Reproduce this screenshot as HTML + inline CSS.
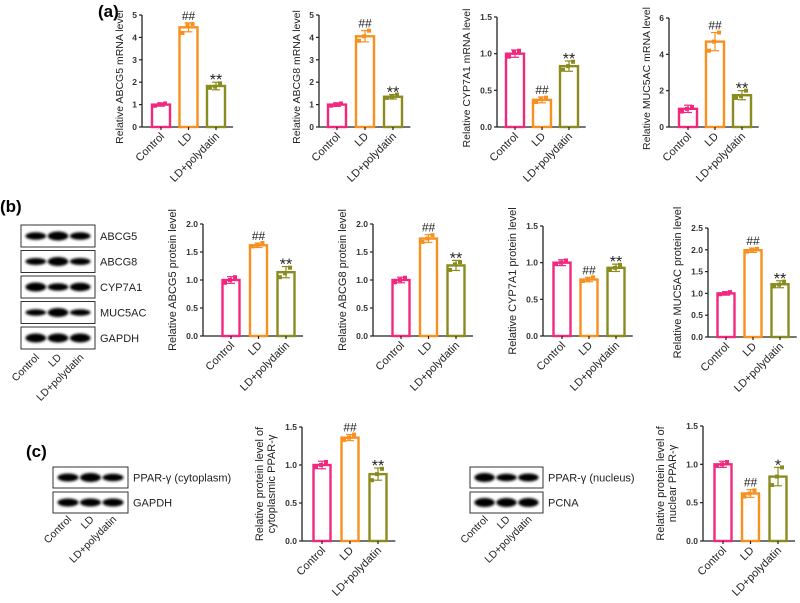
<!DOCTYPE html>
<html><head><meta charset="utf-8"><style>
html,body{margin:0;padding:0;background:#fff;width:800px;height:603px;overflow:hidden}
svg{display:block;font-family:"Liberation Sans",Arial,sans-serif}
</style></head><body>
<svg id="fig" width="800" height="603" viewBox="0 0 800 603" xmlns="http://www.w3.org/2000/svg">
<defs><filter id="blur" x="-20%" y="-50%" width="140%" height="200%"><feGaussianBlur stdDeviation="1.3"/></filter></defs>
<text x="98" y="17" font-size="17" font-weight="bold">(a)</text>
<text x="0" y="212" font-size="17" font-weight="bold">(b)</text>
<text x="26" y="457" font-size="17" font-weight="bold">(c)</text>
</svg>
<script>
const categories=["Control","LD","LD+polydatin"];
const colors=["#f2287f","#f7901e","#8b8c1f"];
// panel (a)
const a1Values=[1.0,4.45,1.83], a1Err=[0.07,0.2,0.17], a1Pts=[[0.95,1.02,1.05],[4.2,4.55,4.6],[1.75,1.8,1.95]], a1Marks=["","##","**"];
const a2Values=[1.0,4.05,1.35], a2Err=[0.08,0.25,0.1], a2Pts=[[0.95,1.0,1.05],[3.85,4.05,4.3],[1.3,1.35,1.45]], a2Marks=["","##","**"];
const a3Values=[1.0,0.37,0.83], a3Err=[0.05,0.04,0.07], a3Pts=[[0.96,1.02,1.04],[0.34,0.38,0.4],[0.78,0.83,0.89]], a3Marks=["","##","**"];
const a4Values=[1.0,4.7,1.75], a4Err=[0.2,0.5,0.25], a4Pts=[[0.85,1.0,1.1],[4.2,4.7,5.2],[1.6,1.7,2.0]], a4Marks=["","##","**"];
// panel (b)
const b1Values=[1.0,1.62,1.14], b1Err=[0.06,0.04,0.1], b1Pts=[[0.95,1.0,1.05],[1.6,1.62,1.66],[1.05,1.12,1.22]], b1Marks=["","##","**"];
const b2Values=[1.0,1.74,1.26], b2Err=[0.05,0.07,0.09], b2Pts=[[0.96,1.0,1.04],[1.68,1.74,1.8],[1.18,1.28,1.32]], b2Marks=["","##","**"];
const b3Values=[1.0,0.77,0.93], b3Err=[0.04,0.03,0.05], b3Pts=[[0.98,1.0,1.03],[0.75,0.77,0.8],[0.9,0.93,0.97]], b3Marks=["","##","**"];
const b4Values=[1.0,1.99,1.21], b4Err=[0.04,0.05,0.08], b4Pts=[[0.98,1.0,1.03],[1.96,2.0,2.02],[1.16,1.2,1.27]], b4Marks=["","##","**"];
// panel (c)
const c1Values=[1.0,1.36,0.88], c1Err=[0.05,0.04,0.08], c1Pts=[[0.97,1.0,1.04],[1.33,1.36,1.4],[0.8,0.88,0.95]], c1Marks=["","##","**"];
const c2Values=[1.0,0.62,0.84], c2Err=[0.04,0.05,0.12], c2Pts=[[0.98,1.0,1.03],[0.58,0.62,0.66],[0.73,0.84,0.96]], c2Marks=["","##","*"];
const ticks5=[0,1,2,3,4,5], ticks15=[0,0.5,1.0,1.5], ticks6=[0,2,4,6], ticks20=[0,0.5,1.0,1.5,2.0], ticks25=[0,0.5,1.0,1.5,2.0,2.5];

const NS="http://www.w3.org/2000/svg";
const svg=document.getElementById('fig');
function el(tag,attrs,parent){const e=document.createElementNS(NS,tag);for(const k in attrs)e.setAttribute(k,attrs[k]);(parent||svg).appendChild(e);return e;}

function chart(id,cfg,values,errs,pts,marks,ticks,ylabel){
  const g=el('g',{});
  
  
  const max=ticks[ticks.length-1];
  const yS=v=>cfg.y0-(v/max)*(cfg.y0-cfg.yTop);
  const xS=i=>cfg.x0+cfg.first+i*cfg.step;
  const endX=xS(2)+cfg.step*0.62;
  const ya=el('line',{x1:cfg.x0,y1:cfg.yTop,x2:cfg.x0,y2:cfg.y0,stroke:'#222','stroke-width':1.3},g);
  
  
  const xa=el('line',{x1:cfg.x0,y1:cfg.y0,x2:endX,y2:cfg.y0,stroke:'#222','stroke-width':1.3},g);
  
  
  ticks.forEach(t=>{
    const y=yS(t);
    el('line',{x1:cfg.x0-3,y1:y,x2:cfg.x0,y2:y,stroke:'#222','stroke-width':1.2},g);
    const tx=el('text',{x:cfg.x0-5,y:y+3,'font-size':8.5,'font-weight':'bold','text-anchor':'end',fill:'#333'},g);
    tx.textContent=cfg.fmt?t.toFixed(1):String(t);
    
    
  });
  const lx=cfg.x0-(cfg.fmt?27:19), ly=(cfg.y0+cfg.yTop)/2+(cfg.ldy||0);
  ylabel.forEach((line,k)=>{
    const t=el('text',{x:0,y:0,'font-size':cfg.lfs||11,'text-anchor':'middle',fill:'#222',transform:`translate(${lx-(ylabel.length-1-k)*12},${ly}) rotate(-90)`},g);
    t.textContent=line;
    
    
  });
  const bw=cfg.bw||17;
  values.forEach((v,i)=>{
    const cx=xS(i), y=yS(v), c=colors[i];
    const r=el('rect',{x:cx-bw/2,y:y,width:bw,height:cfg.y0-y,fill:'#fff',stroke:c,'stroke-width':2.4},g);
    
    
    const ye=yS(v+errs[i]), yl=yS(v-errs[i]);
    el('line',{x1:cx,y1:ye,x2:cx,y2:yl,stroke:c,'stroke-width':1.2},g);
    el('line',{x1:cx-4,y1:ye,x2:cx+4,y2:ye,stroke:c,'stroke-width':1.2},g);
    el('line',{x1:cx-4,y1:yl,x2:cx+4,y2:yl,stroke:c,'stroke-width':1.2},g);
    pts[i].forEach((p,k)=>{
      const pt=el('rect',{x:cx-6+k*5-2,y:yS(p)-2,width:4,height:4,fill:c},g);
      
      
    });
    el('line',{x1:cx,y1:cfg.y0,x2:cx,y2:cfg.y0+3,stroke:'#222','stroke-width':1.2},g);
    const lab=el('text',{x:0,y:0,'font-size':11,'text-anchor':'end',fill:'#222',transform:`translate(${cx+4},${cfg.y0+10}) rotate(-45)`},g);
    lab.textContent=categories[i];
    
    
    if(marks[i]){
      const star=marks[i][0]=='*';
      const m=el('text',{x:cx,y:star?ye+3:ye-3,'font-size':star?16:12,'text-anchor':'middle',fill:'#222'},g);
      m.textContent=marks[i];
      
      
    }
  });
}

chart('chart-abcg5-mrna',{x0:142,y0:127,yTop:15,first:19,step:27.5,bw:18,lfs:10.5,ldy:6},a1Values,a1Err,a1Pts,a1Marks,ticks5,["Relative ABCG5 mRNA level"]);
chart('chart-abcg8-mrna',{x0:319,y0:127,yTop:15,first:18,step:28,bw:18,lfs:10.5,ldy:6},a2Values,a2Err,a2Pts,a2Marks,ticks5,["Relative ABCG8 mRNA level"]);
chart('chart-cyp7a1-mrna',{x0:497,y0:127,yTop:17,first:18,step:27,bw:18,fmt:1,lfs:10.5,ldy:6},a3Values,a3Err,a3Pts,a3Marks,ticks15,["Relative CYP7A1 mRNA level"]);
chart('chart-muc5ac-mrna',{x0:669,y0:127,yTop:18,first:19,step:27,bw:18,lfs:10.5,ldy:6},a4Values,a4Err,a4Pts,a4Marks,ticks6,["Relative MUC5AC mRNA level"]);
chart('chart-abcg5-protein',{x0:203,y0:336,yTop:224,first:28,step:27.5,fmt:1},b1Values,b1Err,b1Pts,b1Marks,ticks20,["Relative ABCG5 protein level"]);
chart('chart-abcg8-protein',{x0:373,y0:336,yTop:224,first:28,step:27.5,fmt:1},b2Values,b2Err,b2Pts,b2Marks,ticks20,["Relative ABCG8 protein level"]);
chart('chart-cyp7a1-protein',{x0:543,y0:336,yTop:226,first:19,step:27,fmt:1},b3Values,b3Err,b3Pts,b3Marks,ticks15,["Relative CYP7A1 protein level"]);
chart('chart-muc5ac-protein',{x0:708,y0:337,yTop:228,first:18,step:27,fmt:1},b4Values,b4Err,b4Pts,b4Marks,ticks25,["Relative MUC5AC protein level"]);
chart('chart-ppar-cytoplasm',{x0:302,y0:541,yTop:427,first:20,step:28,fmt:1},c1Values,c1Err,c1Pts,c1Marks,ticks15,["Relative protein level of","cytoplasmic PPAR-γ"]);
chart('chart-ppar-nucleus',{x0:703,y0:541,yTop:426,first:20,step:27.5,fmt:1},c2Values,c2Err,c2Pts,c2Marks,ticks15,["Relative protein level of","nuclear PPAR-γ"]);

const blotB=["ABCG5","ABCG8","CYP7A1","MUC5AC","GAPDH"];
const blotBIntensity=[[0.7,1,0.7],[0.6,1,0.6],[1,0.7,0.9],[0.5,1,0.5],[1,1,1]];
function blot(name,x,y,w,h,label,inten){
  const g=el('g',{});
  
  
  el('rect',{x:x,y:y,width:w,height:h,fill:'#fff',stroke:'#333','stroke-width':1},g);
  inten.forEach((s,i)=>{
    const cx=x+w*(0.2+i*0.3);
    el('ellipse',{cx:cx,cy:y+h/2,rx:w*0.14,ry:2+s*2.5,fill:'#000',filter:'url(#blur)'},g);
  });
  const t=el('text',{x:x+w+5,y:y+h/2+4,'font-size':11,fill:'#222'},g);
  t.textContent=label;
  
  
}
blotB.forEach((n,i)=>blot('blot-'+n.toLowerCase(),21,225+i*25.5,74,22,n,blotBIntensity[i]));
blot('blot-ppar-cytoplasm',53,467,75,21,"PPAR-γ (cytoplasm)",[0.8,1,0.7]);
blot('blot-gapdh-c',53,492,75,21,"GAPDH",[0.8,0.8,0.8]);
blot('blot-ppar-nucleus',470,467,73,21,"PPAR-γ (nucleus)",[1,0.7,0.8]);
blot('blot-pcna',470,492,73,21,"PCNA",[1,1,1]);
function blotLabels(x,w,y){
  categories.forEach((c,i)=>{
    const t=el('text',{x:0,y:0,'font-size':10.5,'text-anchor':'end',fill:'#222',transform:`translate(${x+w*(0.2+i*0.3)+4},${y}) rotate(-45)`});
    t.textContent=c;
    
    
  });
}
blotLabels(21,74,358);
blotLabels(53,75,520);
blotLabels(470,73,520);
</script>
</body></html>
